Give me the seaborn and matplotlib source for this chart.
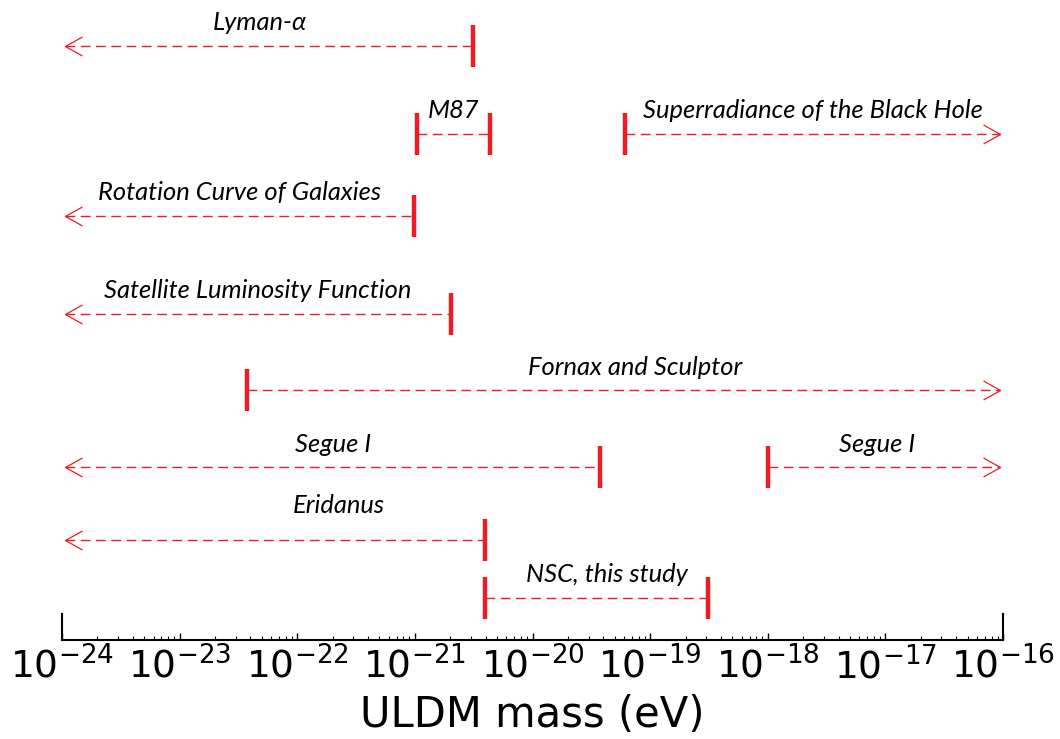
import numpy as np
import pandas as pd
import matplotlib
matplotlib.use("Agg")
import matplotlib.pyplot as plt
from matplotlib.path import Path
from matplotlib.ticker import LogLocator, NullFormatter
import seaborn as sns

# constraints on the ULDM mass (eV); None = open ended (arrow)
labels = ["Lyman-α", "M87", "Superradiance of the Black Hole",
          "Rotation Curve of Galaxies", "Satellite Luminosity Function",
          "Fornax and Sculptor", "Segue I", "Segue I", "Eridanus",
          "NSC, this study"]
lower = [None, 1.04e-21, 6.1e-20, None, None, 3.74e-23, None, 1.0e-18, None, 3.95e-21]
upper = [3.13e-21, 4.36e-21, None, 9.8e-22, 2.03e-21, None, 3.76e-20, None, 3.95e-21, 3.1e-19]

# layout: vertical level of each row (0 = top), label nudges
row_level = [46, 134, 134, 216, 314, 390, 467, 467, 540, 598]
label_shift = [-0.08, 0, 0, 0, 0, 0.1, 0, -0.06, 0.54, 0.09]   # dex
label_lift = [17, 17, 17, 17, 17, 16, 16, 16, 25, 17]          # points

x_min, x_max = 1e-24, 1e-16
red = "#ed1c24"

sns.set_style("white")
plt.rcParams["font.family"] = ["DejaVu Sans"]
plt.rcParams["mathtext.fontset"] = "dejavusans"
plt.rcParams["text.color"] = "black"
plt.rcParams["axes.labelcolor"] = "black"

fig = plt.figure(figsize=(10.6, 7.39), dpi=100)
ax = fig.add_axes([62 / 1060, 99 / 739, 941 / 1060, 640 / 739])
ax.set_xscale("log")
ax.set_xlim(x_min, x_max)
ax.set_ylim(640, 0)

# segment ends: arrow tips sit just inside the axis limits
starts = [lo if lo is not None else x_min * 1.06 for lo in lower]
ends = [hi if hi is not None else x_max / 1.06 for hi in upper]

seg = pd.DataFrame({
    "seg": np.repeat(np.arange(len(labels)), 2),
    "mass": np.ravel(list(zip(starts, ends))),
    "level": np.repeat(row_level, 2),
})
sns.lineplot(data=seg, x="mass", y="level", units="seg", estimator=None,
             color=red, lw=1.0, linestyle=(0, (7, 4)), legend=False, ax=ax)

caps = pd.DataFrame({
    "mass": [v for v in lower + upper if v is not None],
    "level": [r for v, r in zip(lower + upper, row_level + row_level) if v is not None],
})
sns.scatterplot(data=caps, x="mass", y="level", marker="|", s=900,
                linewidth=3.2, color=red, legend=False, ax=ax, zorder=3)

left_head = Path([(1, 0.56), (0, 0), (1, -0.56)], [Path.MOVETO, Path.LINETO, Path.LINETO])
right_head = Path([(-1, 0.56), (0, 0), (-1, -0.56)], [Path.MOVETO, Path.LINETO, Path.LINETO])
lx = [s for s, lo in zip(starts, lower) if lo is None]
ly = [r for r, lo in zip(row_level, lower) if lo is None]
rx = [e for e, hi in zip(ends, upper) if hi is None]
ry = [r for r, hi in zip(row_level, upper) if hi is None]
ax.plot(lx, ly, ls="none", marker=left_head, ms=24.4, mfc="none", mec=red, mew=0.9)
ax.plot(rx, ry, ls="none", marker=right_head, ms=24.4, mfc="none", mec=red, mew=0.9)

for i, name in enumerate(labels):
    mid = (np.log10(starts[i]) + np.log10(ends[i])) / 2 + label_shift[i]
    ax.annotate(name, xy=(10 ** mid, row_level[i]), xytext=(0, label_lift[i]),
                textcoords="offset points", ha="center", va="center", color="black",
                fontsize=18.4, fontstyle="italic", family=["Lato", "DejaVu Sans"])

# axis styling
ax.spines["top"].set_visible(False)
for side in ["left", "right", "bottom"]:
    ax.spines[side].set_color("black")
    ax.spines[side].set_linewidth(1.5)
ax.spines["left"].set_bounds(614, 640)
ax.spines["right"].set_bounds(614, 640)
ax.set_yticks([])
ax.xaxis.set_major_locator(LogLocator(base=10, numticks=20))
ax.xaxis.set_minor_locator(LogLocator(base=10, subs=np.arange(2, 10), numticks=200))
ax.xaxis.set_minor_formatter(NullFormatter())
ax.tick_params(axis="x", which="major", direction="in", length=5, width=1,
               labelsize=27, pad=5, bottom=True, top=False, colors="black")
ax.tick_params(axis="x", which="minor", direction="in", length=3, width=0.8,
               bottom=True, top=False, colors="black")
ax.set_xlabel("ULDM mass (eV)", fontsize=30, labelpad=5)
ax.set_ylabel("")

fig.savefig("out.png", dpi=100)
